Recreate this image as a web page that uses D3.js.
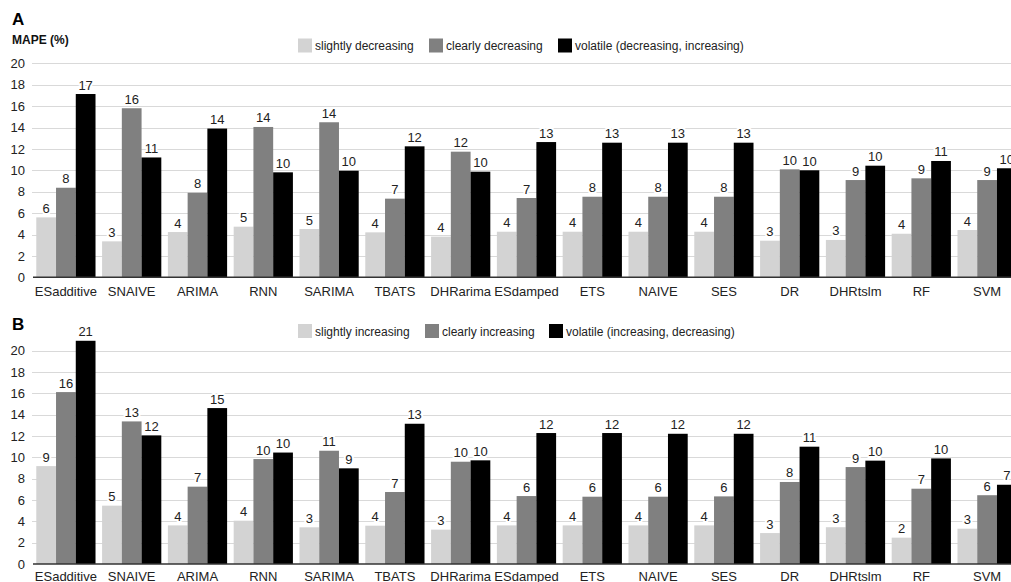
<!DOCTYPE html>
<html>
<head>
<meta charset="utf-8">
<script src="https://cdn.jsdelivr.net/npm/d3@7"></script>
<style>
  html, body { margin: 0; padding: 0; background: #fff; overflow: hidden; }
  svg { display: block; font-family: "Liberation Sans", Arial, sans-serif; }
</style>
</head>
<body>
<svg id="chart" width="1011" height="582"></svg>
<script>
const categories = ["ESadditive","SNAIVE","ARIMA","RNN","SARIMA","TBATS","DHRarima","ESdamped","ETS","NAIVE","SES","DR","DHRtslm","RF","SVM"];
const yTicks = [0,2,4,6,8,10,12,14,16,18,20];

// Panel A (decreasing)
const seriesNamesA = ["slightly decreasing","clearly decreasing","volatile (decreasing, increasing)"];
const slightlyDecreasing = [5.6,3.36,4.23,4.73,4.51,4.2,3.8,4.26,4.26,4.26,4.26,3.42,3.49,4.07,4.42];
const clearlyDecreasing  = [8.37,15.8,7.9,14.05,14.49,7.35,11.74,7.41,7.53,7.53,7.53,10.09,9.09,9.25,9.09];
const volatileDecInc     = [17.13,11.2,13.9,9.81,9.96,12.24,9.87,12.64,12.58,12.58,12.58,10.0,10.43,10.87,10.19];

// Panel B (increasing)
const seriesNamesB = ["slightly increasing","clearly increasing","volatile (increasing, decreasing)"];
const slightlyIncreasing = [9.18,5.47,3.62,4.06,3.44,3.59,3.22,3.62,3.62,3.62,3.62,2.9,3.45,2.47,3.31];
const clearlyIncreasing  = [16.12,13.37,7.25,9.84,10.62,6.75,9.59,6.37,6.31,6.31,6.34,7.69,9.09,7.06,6.45];
const volatileIncDec     = [20.93,12.06,14.62,10.45,8.97,13.15,9.72,12.28,12.28,12.21,12.21,11.0,9.69,9.9,7.43];

const colors = ["#d3d3d3","#808080","#000000"];

const svg = d3.select("#chart");
const FONT = "Liberation Sans, Arial, sans-serif";

const x = d3.scaleBand().domain(categories).range([33, 1020]).paddingInner(0.1).paddingOuter(0.05);
const sub = d3.scaleBand().domain([0,1,2]).range([0, x.bandwidth()]);

function panel(opts) {
  const g = svg.append("g");
  const y = d3.scaleLinear().domain([0, 20]).range([opts.y0, opts.y20]);
  const series = opts.series;

  // title letter
  g.append("text").attr("x", 12).attr("y", opts.titleY)
    .attr("font-size", 17).attr("font-weight", "bold").attr("fill", "#000").text(opts.title);
  if (opts.yTitle) {
    g.append("text").attr("x", 12).attr("y", opts.yTitleY)
      .attr("font-size", 12).attr("font-weight", "bold").attr("fill", "#111").text(opts.yTitle);
  }

  // gridlines
  g.append("g").selectAll("line").data(yTicks.filter(d => d > 0)).join("line")
    .attr("x1", 32).attr("x2", 1011)
    .attr("y1", d => Math.round(y(d)) + 0.5).attr("y2", d => Math.round(y(d)) + 0.5)
    .attr("stroke", "#d9d9d9").attr("stroke-width", 1);

  // y tick labels
  const ya = d3.axisLeft(y).tickValues(yTicks).tickSize(0).tickPadding(0);
  const yg = g.append("g").attr("transform", "translate(25,0)").call(ya);
  yg.select(".domain").remove();
  yg.selectAll("text").attr("font-size", 13).attr("font-family", FONT).attr("fill", "#222");

  // bars
  series.forEach((vals, si) => {
    g.append("g").selectAll("rect").data(vals).join("rect")
      .attr("x", (d, i) => x(categories[i]) + sub(si))
      .attr("width", sub.bandwidth())
      .attr("y", d => y(d))
      .attr("height", d => y(0) - y(d))
      .attr("fill", colors[si]);
  });

  // value labels
  series.forEach((vals, si) => {
    g.append("g").selectAll("text").data(vals).join("text")
      .attr("x", (d, i) => x(categories[i]) + sub(si) + sub.bandwidth() / 2)
      .attr("y", d => y(d) - 4.5)
      .attr("text-anchor", "middle")
      .attr("font-size", 13)
      .attr("fill", "#222")
      .attr("stroke", "#fff").attr("stroke-width", 4).attr("paint-order", "stroke")
      .attr("stroke-linejoin", "round")
      .text(d => Math.round(d));
  });

  // baseline
  g.append("line").attr("x1", 33).attr("x2", 1011)
    .attr("y1", y(0)).attr("y2", y(0)).attr("stroke", "#333").attr("stroke-width", 1.5);

  // x axis labels
  const xa = d3.axisBottom(x).tickSize(0).tickPadding(0);
  const xg = g.append("g").attr("transform", `translate(0,${opts.catY})`).call(xa);
  xg.select(".domain").remove();
  xg.selectAll("text").attr("font-size", 13).attr("font-family", FONT).attr("fill", "#222").attr("dy", null).attr("y", 0);

  // legend
  const lg = g.append("g");
  opts.legendNames.forEach((name, i) => {
    const lx = opts.legendX[i];
    lg.append("rect").attr("x", lx).attr("y", opts.legendY).attr("width", 14).attr("height", 14).attr("fill", colors[i]);
    lg.append("text").attr("x", lx + 17).attr("y", opts.legendY + 11.5)
      .attr("font-size", 12).attr("fill", "#222").text(name);
  });
}

panel({
  title: "A", titleY: 25, yTitle: "MAPE (%)", yTitleY: 43.5,
  y0: 277.3, y20: 63.3,
  series: [slightlyDecreasing, clearlyDecreasing, volatileDecInc],
  legendNames: seriesNamesA, legendX: [298, 429, 558], legendY: 38.5,
  catY: 295.5
});

panel({
  title: "B", titleY: 330,
  y0: 564, y20: 350.7,
  series: [slightlyIncreasing, clearlyIncreasing, volatileIncDec],
  legendNames: seriesNamesB, legendX: [298, 425, 549], legendY: 324,
  catY: 580.5
});
</script>
</body>
</html>
